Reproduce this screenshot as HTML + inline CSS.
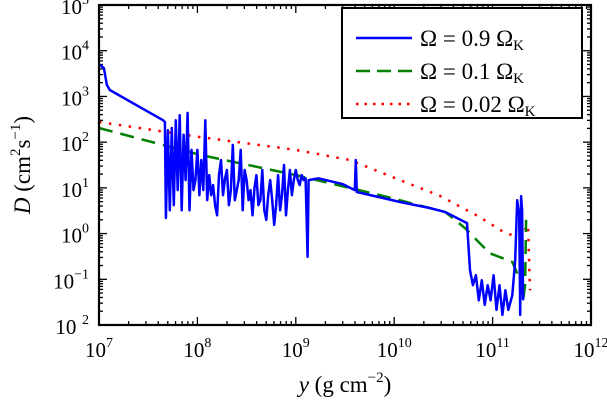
<!DOCTYPE html>
<html><head><meta charset="utf-8"><style>
body{margin:0;background:#fff}
svg text{font-family:"Liberation Serif",serif;fill:#000}
</style></head><body>
<svg id="chart" width="607" height="401" viewBox="0 0 607 401" xmlns="http://www.w3.org/2000/svg">
<g id="ticks"></g>
<g id="series"></g>
<rect x="99" y="5" width="492" height="320" fill="none" stroke="#000" stroke-width="2.2"/>
<g id="labels"></g>
<text x="345" y="392" font-size="23" text-anchor="middle"><tspan font-style="italic">y</tspan> (g cm<tspan font-size="15" dy="-10">−2</tspan><tspan dy="10">)</tspan></text>
<text transform="translate(30,165) rotate(-90)" font-size="23" text-anchor="middle"><tspan font-style="italic">D</tspan> (cm<tspan font-size="15" dy="-10">2</tspan><tspan dy="10">s</tspan><tspan font-size="15" dy="-10">−1</tspan><tspan dy="10">)</tspan></text>
<g>
<rect x="342" y="8" width="240" height="110" fill="#fff" stroke="#000" stroke-width="2"/>
<line x1="356" y1="38" x2="412" y2="38" stroke="#0000ff" stroke-width="2.5"/>
<text x="420" y="46" font-size="23">Ω = 0.9 Ω<tspan font-size="15" dy="4">K</tspan></text>
<line x1="356" y1="71" x2="412" y2="71" stroke="#008000" stroke-width="2.5" stroke-dasharray="14,7"/>
<text x="420" y="79" font-size="23">Ω = 0.1 Ω<tspan font-size="15" dy="4">K</tspan></text>
<line x1="356" y1="104" x2="412" y2="104" stroke="#ff0000" stroke-width="2.5" stroke-dasharray="2.5,6"/>
<text x="420" y="112" font-size="23">Ω = 0.02 Ω<tspan font-size="15" dy="4">K</tspan></text>
</g>
</svg>
<script>
const xTickExps=[7,8,9,10,11,12];
const yTickExps=[-2,-1,0,1,2,3,4,5];
const blueLogY=[7.01,7.05,7.08,7.11,7.65,7.67,7.68,7.70,7.72,7.74,7.76,7.78,7.80,7.82,7.84,7.86,7.88,7.90,7.92,7.94,7.96,7.98,8.00,8.02,8.04,8.06,8.08,8.10,8.12,8.14,8.16,8.18,8.20,8.22,8.24,8.26,8.28,8.30,8.32,8.34,8.36,8.38,8.40,8.42,8.44,8.46,8.48,8.50,8.52,8.54,8.56,8.58,8.60,8.62,8.64,8.66,8.68,8.70,8.72,8.74,8.76,8.78,8.80,8.82,8.84,8.86,8.88,8.90,8.92,8.94,8.96,8.98,9.00,9.02,9.04,9.06,9.08,9.10,9.12,9.13,9.23,9.48,9.60,9.61,9.62,10.06,10.36,10.52,10.74,10.77,10.80,10.83,10.86,10.89,10.92,10.95,10.98,11.01,11.04,11.07,11.10,11.13,11.16,11.20,11.23,11.25,11.27,11.28,11.29,11.30,11.31];
const blueLogD=[3.69,3.62,3.25,3.14,2.48,2.44,0.34,2.26,0.51,2.31,0.62,2.48,0.95,2.59,0.51,2.16,1.17,2.64,0.51,1.83,0.95,1.17,1.83,0.84,1.61,0.95,2.48,0.73,1.28,0.84,1.06,0.62,0.40,1.28,1.61,0.84,1.21,1.39,0.62,0.95,1.94,0.73,0.95,1.17,1.83,0.51,1.39,1.17,0.73,0.95,0.40,1.00,1.28,0.62,0.73,1.39,0.51,0.30,0.84,1.17,0.73,0.19,0.62,1.28,0.51,0.84,1.50,0.40,0.95,1.39,0.84,1.17,1.39,1.17,1.06,1.28,1.17,1.21,-0.51,1.17,1.21,1.08,0.95,1.61,0.91,0.69,0.56,0.47,0.23,-0.80,-1.13,-0.91,-1.46,-1.02,-1.56,-1.13,-1.46,-0.91,-1.67,-1.13,-1.78,-1.24,-1.67,-1.35,-0.58,0.73,0.40,-1.78,0.82,0.51,-1.46];
const greenLogY=[7.00,8.03,9.00,9.86,10.52,10.72,10.97,11.20,11.28,11.31,11.33,11.34];
const greenLogD=[2.31,1.72,1.28,0.84,0.47,0.12,-0.43,-0.62,-1.02,-1.46,-1.13,0.30];
const redLogY=[7.00,8.03,9.00,9.55,10.06,10.47,10.87,11.13,11.28,11.36,11.38];
const redLogD=[2.44,2.11,1.83,1.61,1.17,0.82,0.36,0.01,-0.08,0.19,-1.24];

const X0=99,X1=591,Y0=5,Y1=325;
const sx=e=>X0+(e-7)/5*(X1-X0);
const sy=e=>Y1-(e+2)/7*(Y1-Y0);
const NS="http://www.w3.org/2000/svg";
const mk=(t,a,p)=>{const el=document.createElementNS(NS,t);for(const k in a)el.setAttribute(k,a[k]);p.appendChild(el);return el;};
const tg=document.getElementById('ticks'),lg=document.getElementById('labels'),sg=document.getElementById('series');
function tick(x1,y1,x2,y2,name){const l=mk('line',{x1,y1,x2,y2,stroke:'#000','stroke-width':1.3},tg);

}
for(let i=0;i<xTickExps.length;i++){const e=xTickExps[i],x=sx(e);
 tick(x,Y1,x,Y1-8,'x-major-tick');tick(x,Y0,x,Y0+8,'x-major-tick');
 if(i<xTickExps.length-1)for(let m=2;m<10;m++){const xm=sx(e+Math.log10(m));tick(xm,Y1,xm,Y1-4,'x-minor-tick');tick(xm,Y0,xm,Y0+4,'x-minor-tick');}
 const t=mk('text',{x:x,y:357,'font-size':21,'text-anchor':'middle'},lg);
 
 
 t.innerHTML='10<tspan font-size="14" dy="-10">'+e+'</tspan>';}
for(let i=0;i<yTickExps.length;i++){const e=yTickExps[i],y=sy(e);
 tick(X0,y,X0+8,y,'y-major-tick');tick(X1,y,X1-8,y,'y-major-tick');
 if(i<yTickExps.length-1)for(let m=2;m<10;m++){const ym=sy(e+Math.log10(m));tick(X0,ym,X0+4,ym,'y-minor-tick');tick(X1,ym,X1-4,ym,'y-minor-tick');}
 const t=mk('text',{x:89,y:y+9,'font-size':21,'text-anchor':'end'},lg);
 
 
 const lab=e<0?(e===-2?'\u2009\u2009'+(-e):'−'+(-e)):String(e);
 t.innerHTML='10<tspan font-size="14" dy="-10">'+lab+'</tspan>';}
function line(xs,ys,color,dash,name){const d=xs.map((v,i)=>(i?'L':'M')+sx(v).toFixed(1)+','+sy(ys[i]).toFixed(1)).join('');
 const p=mk('path',{d,fill:'none',stroke:color,'stroke-width':2.5,'stroke-linejoin':'round','stroke-dasharray':dash},sg);
 
 }
line(redLogY,redLogD,'#ff0000','2.5,7.5','series-omega-0.02');
line(greenLogY,greenLogD,'#008000','14,8','series-omega-0.1');
line(blueLogY,blueLogD,'#0000ff','none','series-omega-0.9');
</script>
</body></html>
